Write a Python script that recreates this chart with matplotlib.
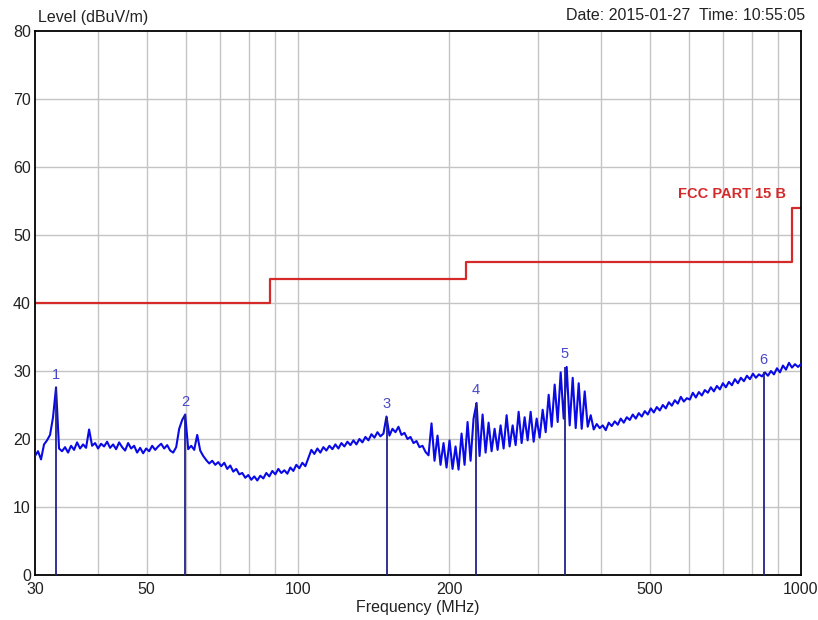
import numpy as np
import matplotlib
matplotlib.use('Agg')
import matplotlib.pyplot as plt
from matplotlib.ticker import FixedLocator, NullLocator, NullFormatter

plt.rcParams['font.family'] = ['Liberation Sans', 'DejaVu Sans']

# Scan levels (dBuV/m), one per sweep step (log spaced 30-1000 MHz)
levels = [
    17.5, 18.2, 17.0, 19.2, 19.8, 20.6, 23.2, 27.6, 18.6, 18.2,
    18.8, 18.0, 19.0, 18.4, 19.5, 18.6, 19.2, 18.7, 21.4, 19.0,
    19.4, 18.6, 19.3, 18.9, 19.6, 18.7, 19.2, 18.5, 19.5, 18.8,
    18.3, 19.4, 18.6, 19.0, 18.0, 18.7, 17.9, 18.6, 18.2, 19.0,
    18.4, 18.9, 19.3, 18.6, 19.1, 18.3, 18.0, 18.8, 21.5, 22.8,
    23.6, 18.5, 19.0, 18.4, 20.6, 18.3, 17.5, 16.9, 16.4, 16.8,
    16.2, 16.6, 16.0, 16.5, 15.6, 16.1, 15.2, 15.6, 14.8, 15.0,
    14.3, 14.7, 14.0, 14.5, 13.9, 14.6, 14.2, 15.0, 14.5, 15.3,
    14.8, 15.6, 15.0, 15.4, 14.9, 15.8, 15.3, 16.2, 15.7, 16.5,
    16.0, 17.2, 18.4, 17.8, 18.6, 18.0, 18.8, 18.3, 19.0, 18.5,
    19.2, 18.6, 19.4, 18.9, 19.6, 19.1, 19.8, 19.2, 20.0, 19.5,
    20.3, 19.8, 20.7, 20.2, 21.0, 20.4, 20.8, 23.3, 20.5, 21.5,
    21.0, 21.8, 20.6, 20.9, 20.0, 20.3, 19.4, 19.7, 18.8, 19.0,
    18.1, 17.6, 22.3, 16.8, 20.5, 16.2, 19.4, 15.8, 19.8, 15.6,
    18.9, 15.5, 20.8, 16.2, 22.5, 16.8, 23.0, 25.3, 17.5, 23.6,
    18.0, 22.4, 18.2, 21.5, 18.4, 22.0, 18.6, 23.5, 18.9, 22.0,
    19.1, 24.0, 19.4, 23.2, 19.8, 24.0, 19.6, 23.0, 20.2, 24.3,
    21.0, 26.5, 21.8, 28.0, 22.5, 29.8, 23.0, 30.6, 22.0, 29.0,
    21.6, 28.2, 21.5, 27.0, 21.8, 23.5, 21.4, 22.2, 21.6, 22.0,
    21.3, 22.4, 21.9, 22.6, 22.1, 23.0, 22.4, 23.2, 22.8, 23.6,
    23.0, 23.8, 23.3, 24.1, 23.6, 24.5, 23.9, 24.7, 24.2, 25.0,
    24.5, 25.4, 24.9, 25.7, 25.2, 26.2, 25.5, 26.0, 25.8, 26.8,
    26.1, 26.9, 26.4, 27.2, 26.8, 27.6, 27.0, 27.8, 27.3, 28.2,
    27.6, 28.4, 27.9, 28.8, 28.2, 29.0, 28.5, 29.3, 28.8, 29.6,
    29.0, 29.5, 29.2, 29.8, 29.3, 30.0, 29.5, 30.4, 29.8, 30.8,
    30.2, 31.2, 30.5, 31.0, 30.6, 31.0,
]
freqs = np.geomspace(30, 1000, len(levels))

# FCC Part 15 B limit (step edges)
limit_freqs = [30, 88, 216, 960, 1000]
limit_levels = [40, 43.5, 46, 54, 54]

# Markers
marker_ids = ['1', '2', '3', '4', '5', '6']
marker_freqs = [33.0, 59.6, 150.0, 226.0, 339.0, 843.0]
marker_levels = [27.6, 23.6, 23.3, 25.3, 30.6, 29.8]

x_ticks = [30, 50, 100, 200, 500, 1000]
x_grid = [40, 50, 60, 70, 80, 90, 100, 200, 300, 400, 500, 600, 700, 800, 900]
y_ticks = list(range(0, 81, 10))

fig = plt.figure(figsize=(8.18, 6.2), dpi=100)
ax = fig.add_axes([0.0428, 0.0726, 0.9364, 0.8774])

ax.set_xscale('log')
ax.set_xlim(30, 1000)
ax.set_ylim(0, 80)

for g in x_grid:
    ax.axvline(g, color='#c4c4c4', lw=1.0, zorder=0)
for g in y_ticks[1:-1]:
    ax.axhline(g, color='#c4c4c4', lw=1.0, zorder=0)

ax.step(limit_freqs, limit_levels, where='post', color='#d42a2a', lw=1.6, zorder=2)
ax.text(935, 56, 'FCC PART 15 B', color='#d42a2a', fontsize=10.5, fontweight='bold',
        ha='right', va='center')

ax.plot(freqs, levels, color='#0a0ae6', lw=1.5, zorder=3)

for mid, mf, ml in zip(marker_ids, marker_freqs, marker_levels):
    ax.vlines(mf, 0, ml, color='#22228a', lw=1.3, zorder=4)
    ax.annotate(mid, (mf, ml), xytext=(0, 4), textcoords='offset points',
                ha='center', va='bottom', color='#4848c8', fontsize=10.5)

ax.xaxis.set_major_locator(FixedLocator(x_ticks))
ax.xaxis.set_major_formatter(plt.FixedFormatter([str(t) for t in x_ticks]))
ax.xaxis.set_minor_locator(NullLocator())
ax.xaxis.set_minor_formatter(NullFormatter())
ax.set_yticks(y_ticks)
ax.tick_params(axis='both', length=0, labelsize=11.5, colors='#222222', pad=3)
ax.tick_params(axis='x', pad=5)

for s in ax.spines.values():
    s.set_color('black')
    s.set_linewidth(1.3)

ax.set_xlabel('Frequency (MHz)', fontsize=11.5, labelpad=2, color='#222222')
fig.text(0.047, 0.972, 'Level (dBuV/m)', fontsize=11.5, ha='left', va='center', color='#222222')
fig.text(0.984, 0.975, 'Date: 2015-01-27  Time: 10:55:05', fontsize=11.5, ha='right',
         va='center', color='#222222')

fig.savefig('out.png', dpi=100, facecolor='white')
